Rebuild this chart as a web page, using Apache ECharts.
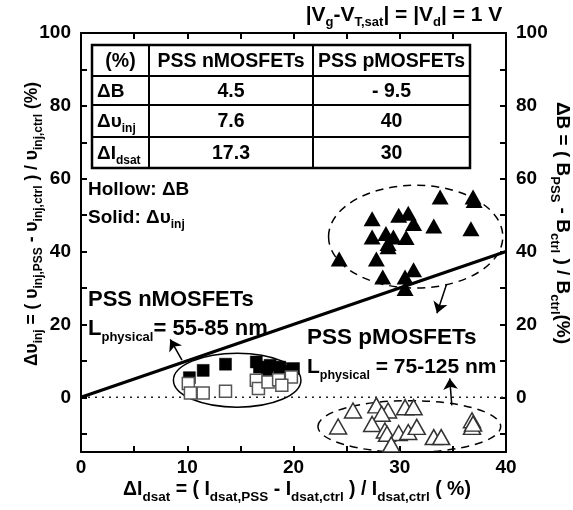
<!DOCTYPE html>
<html><head><meta charset="utf-8">
<script src="https://cdn.jsdelivr.net/npm/echarts@6/dist/echarts.min.js"></script>
<style>html,body{margin:0;padding:0;background:#fff}#c{width:573px;height:510px}</style>
</head><body><div id="c"></div>
<script>
// ---- data ----
const xTicks = [0, 10, 20, 30, 40];
const yTicks = [0, 20, 40, 60, 80, 100];
const xAllTicks = [0, 5, 10, 15, 20, 25, 30, 35, 40];
const yAllTicks = [-10, 0, 10, 20, 30, 40, 50, 60, 70, 80, 90, 100];

// nMOSFETs: solid = Δυinj, hollow = ΔB  (x = ΔIdsat)
const nSolid = [[10.2,5.4],[11.5,7.4],[13.6,9.1],[16.5,9.7],[16.8,8.3],[17.8,8.8],[18.7,8.3],[17.5,7.4],[20.0,7.9],[19.0,7.4]];
const nHollow = [[10.1,3.8],[10.3,1.2],[11.5,1.2],[13.6,1.7],[16.5,4.7],[16.7,2.4],[17.6,4.2],[18.6,4.8],[19.8,5.6],[18.9,3.3]];
// pMOSFETs
const pSolid = [[33.8,55],[36.9,55],[37.0,54],[27.4,49],[29.9,50],[30.8,50.5],[31.3,47.7],[33.2,47],[36.7,46.3],[27.4,44],[28.7,45],[29.4,44],[28.9,42.2],[30.6,43.9],[28.9,41.3],[24.3,38],[27.8,38],[28.4,33],[30.5,33],[31.3,35],[30.5,29.9]];
const pHollow = [[25.6,-3.6],[27.8,-2.2],[28.9,-3.6],[28.3,-4.5],[30.5,-2.7],[31.3,-2.7],[24.2,-8],[27.4,-7.3],[28.6,-9.1],[28.8,-10],[29.9,-9.8],[30.8,-9.5],[31.6,-8.1],[29.2,-12.9],[33.2,-10.9],[33.9,-10.9],[36.8,-6.3],[36.8,-8.1],[36.9,-7.2]];

const trendLine = [[0,0],[40,40]];
const zeroLine = [[0,0],[40,0]];

// group outlines: [cx, cy, rx, ry, dashed(1/0)] in data units
const groupOutlines = [[14.7,4.7,6.0,7.4,0],[31.5,44.1,8.2,14.1,1],[30.9,-8,8.6,7.1,1]];
// annotation arrows (data units): from -> to
const arrowLines = [[[9.5,10.2],[8.4,15.9]],[[34.4,31.0],[33.5,23.1]],[[34.9,-2.2],[34.7,5.2]]];

// table
const tableHead = ['(%)', 'PSS nMOSFETs', 'PSS pMOSFETs'];
const tableRowNames = ['{n|ΔB}', '{n|Δυ}{s|inj}', '{n|ΔI}{s|dsat}'];
const tableN = ['4.5', '7.6', '17.3'];
const tableP = ['- 9.5', '40', '30'];

// ---- chart ----
const FF = '"Liberation Sans", Arial, sans-serif';
const chart = echarts.init(document.getElementById('c'));

function richSet(main, sub, lh) {
  return {
    n: {fontSize: main, fontWeight: 'bold', fontFamily: FF, fill: '#000', color:'#000', lineHeight: lh, verticalAlign: 'middle'},
    s: {fontSize: sub, fontWeight: 'bold', fontFamily: FF, fill: '#000', color:'#000', lineHeight: sub + 2, verticalAlign: 'bottom'}
  };
}
function txt(x, y, text, opt) {
  opt = opt || {};
  return {
    type: 'text', x: x, y: y, rotation: opt.rotation || 0, z: 100,
    style: {
      text: text, fill: '#000', font: 'bold ' + (opt.size || 16) + 'px ' + FF,
      align: opt.align || 'left', verticalAlign: opt.va || 'middle',
      rich: opt.rich
    }
  };
}

const tabX = [92, 149, 313, 470];
const tabY = [45, 76, 105, 137, 168];
const graphics = [];
// table
graphics.push({type:'rect', z: 50, shape:{x:tabX[0], y:tabY[0], width:tabX[3]-tabX[0], height:tabY[4]-tabY[0]}, style:{fill:'#fff', stroke:'#000', lineWidth:2.5}});
[tabX[1], tabX[2]].forEach(function(x){ graphics.push({type:'line', z:51, shape:{x1:x,y1:tabY[0],x2:x,y2:tabY[4]}, style:{stroke:'#000', lineWidth:2}}); });
[tabY[1], tabY[2], tabY[3]].forEach(function(y){ graphics.push({type:'line', z:51, shape:{x1:tabX[0],y1:y,x2:tabX[3],y2:y}, style:{stroke:'#000', lineWidth:2}}); });
const tabRich = richSet(19, 12, 26);
tableHead.forEach(function(h, i){
  graphics.push(txt((tabX[i]+tabX[i+1])/2, (tabY[0]+tabY[1])/2+1, h, {size:19.5, align:'center'}));
});
for (let r = 0; r < 3; r++) {
  const cy = (tabY[r+1]+tabY[r+2])/2 + 1;
  graphics.push(txt(tabX[0]+5, cy, tableRowNames[r], {align:'left', rich: tabRich}));
  graphics.push(txt((tabX[1]+tabX[2])/2, cy, tableN[r], {size:19.5, align:'center'}));
  graphics.push(txt((tabX[2]+tabX[3])/2, cy, tableP[r], {size:19.5, align:'center'}));
}
// annotations
graphics.push(txt(404, 15, '{n||V}{s|g}{n|-V}{s|T,sat}{n|| = |V}{s|d}{n|| = 1 V}', {align:'center', rich: richSet(21, 13, 28)}));
graphics.push(txt(88, 190, '{n|Hollow: ΔB}', {rich: richSet(19, 12, 26)}));
graphics.push(txt(88, 218, '{n|Solid: Δυ}{s|inj}', {rich: richSet(19, 12, 26)}));
graphics.push(txt(88, 300, 'PSS nMOSFETs', {size: 22}));
graphics.push(txt(88, 329, '{n|L}{s|physical}{n|= 55-85 nm}', {rich: richSet(22, 13, 30)}));
graphics.push(txt(307, 338, 'PSS pMOSFETs', {size: 22.5}));
graphics.push(txt(307, 367, '{n|L}{s|physical}{n| = 75-125 nm}', {rich: richSet(21, 12.5, 30)}));
// axis titles
graphics.push(txt(297, 490, '{n|ΔI}{s|dsat}{n| = ( I}{s|dsat,PSS}{n| - I}{s|dsat,ctrl}{n| ) / I}{s|dsat,ctrl}{n| ( %)}', {align:'center', rich: richSet(19.5, 13.5, 28)}));
graphics.push(txt(32, 224, '{n|Δυ}{s|inj}{n| = ( υ}{s|inj,PSS}{n| - υ}{s|inj,ctrl}{n| ) / υ}{s|inj,ctrl}{n| (%)}', {align:'center', rotation: Math.PI/2, rich: richSet(17.5, 12, 26)}));
graphics.push(txt(562, 223, '{n|ΔB = ( B}{s|PSS}{n| - B}{s|ctrl}{n| ) / B}{s|ctrl}{n|(%)}', {align:'center', rotation: -Math.PI/2, rich: richSet(19, 13, 28)}));

const axisCommon = {
  type: 'value',
  axisLine: {show: true, onZero: false, lineStyle: {color: '#000', width: 2}},
  splitLine: {show: false},
};
const labelStyle = {color: '#000', fontSize: 19, fontWeight: 'bold', fontFamily: FF};

const option = {
  backgroundColor: '#fff',
  animation: false,
  grid: {left: 81, right: 67, top: 33, bottom: 58, containLabel: false},
  xAxis: [
    Object.assign({}, axisCommon, {min: 0, max: 40, position: 'bottom',
      axisTick: {show: true, inside: true, length: 6, customValues: xAllTicks, lineStyle: {color:'#000', width: 2}},
      axisLabel: Object.assign({show: true, margin: 6, customValues: xTicks}, labelStyle)}),
    Object.assign({}, axisCommon, {min: 0, max: 40, position: 'top',
      axisTick: {show: true, inside: true, length: 6, customValues: xAllTicks, lineStyle: {color:'#000', width: 2}},
      axisLabel: {show: false}})
  ],
  yAxis: [
    Object.assign({}, axisCommon, {min: -15, max: 100, position: 'left',
      axisTick: {show: true, inside: true, length: 6, customValues: yAllTicks, lineStyle: {color:'#000', width: 2}},
      axisLabel: Object.assign({show: true, margin: 10, customValues: yTicks}, labelStyle)}),
    Object.assign({}, axisCommon, {min: -15, max: 100, position: 'right',
      axisTick: {show: true, inside: true, length: 6, customValues: yAllTicks, lineStyle: {color:'#000', width: 2}},
      axisLabel: Object.assign({show: true, margin: 10, customValues: yTicks}, labelStyle)})
  ],
  series: [
    {type: 'line', data: zeroLine, showSymbol: false, symbol: 'none', silent: true, z: 1,
      lineStyle: {color: '#222', width: 1.5, type: [2, 5]}},
    {type: 'line', data: trendLine, showSymbol: false, symbol: 'none', silent: true, z: 3,
      lineStyle: {color: '#000', width: 3.2}},
    {type: 'custom', z: 2, silent: true, data: groupOutlines,
      renderItem: function(params, api) {
        const c = api.coord([api.value(0), api.value(1)]);
        const s = api.size([api.value(2), api.value(3)]);
        return {type: 'ellipse', shape: {cx: c[0], cy: c[1], rx: s[0], ry: s[1]},
          style: {fill: null, stroke: '#000', lineWidth: 1.5, lineDash: api.value(4) ? [8, 6] : null}};
      }},
    {type: 'lines', coordinateSystem: 'cartesian2d', z: 4, silent: true,
      data: arrowLines.map(function(a){ return {coords: a}; }),
      symbol: ['none', 'arrow'], symbolSize: 11,
      lineStyle: {color: '#000', width: 1.5, opacity: 1}},
    {type: 'scatter', data: nSolid, symbol: 'rect', symbolSize: 12, z: 5,
      itemStyle: {color: '#000', borderColor: '#000', borderWidth: 0.5, opacity: 1}},
    {type: 'scatter', data: nHollow, symbol: 'rect', symbolSize: 12, z: 6,
      itemStyle: {color: '#fff', borderColor: '#555', borderWidth: 1.5, opacity: 1}},
    {type: 'scatter', data: pSolid, symbol: 'triangle', symbolSize: [17, 15], z: 5,
      itemStyle: {color: '#000', opacity: 1}},
    {type: 'scatter', data: pHollow, symbol: 'triangle', symbolSize: [17, 15], z: 5,
      itemStyle: {color: '#fff', borderColor: '#333', borderWidth: 1.5, opacity: 1}}
  ],
  graphic: graphics
};
chart.setOption(option);
</script>
</body></html>
